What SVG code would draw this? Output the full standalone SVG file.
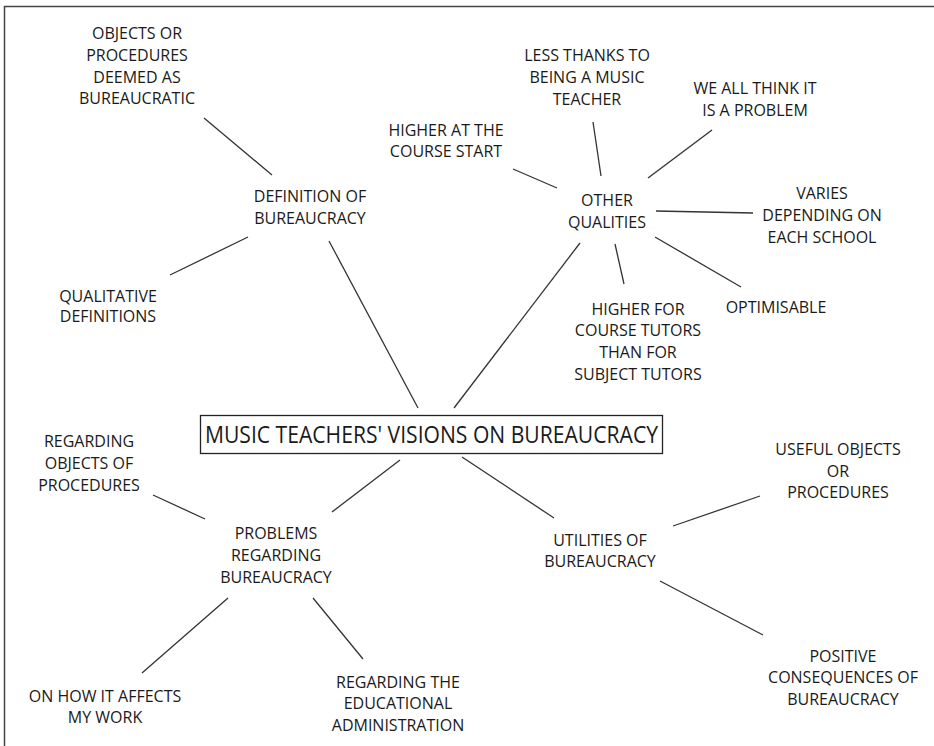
<svg xmlns="http://www.w3.org/2000/svg" width="934" height="746" viewBox="0 0 934 746">
<style>
text{font-family:"Open Sans","DejaVu Sans",sans-serif;font-size:16px;fill:#1a1a1a;text-anchor:middle}
.c line{stroke:#333;stroke-width:1.3}
.title{font-size:23px}
</style>
<rect width="934" height="746" fill="#fff"/>
<path d="M4.5 746V6.5H934" fill="none" stroke="#444" stroke-width="1.5"/>
<g class="c" id="connectors">
<line x1="418" y1="408" x2="329" y2="241"/>
<line x1="454" y1="408" x2="580" y2="243"/>
<line x1="400" y1="460" x2="332" y2="512"/>
<line x1="462" y1="457" x2="554" y2="518"/>
<line x1="272" y1="175" x2="204" y2="118"/>
<line x1="248" y1="237" x2="170" y2="275"/>
<line x1="601" y1="176" x2="593" y2="122"/>
<line x1="648" y1="178" x2="712" y2="130"/>
<line x1="557" y1="188" x2="513" y2="169"/>
<line x1="656" y1="211" x2="753" y2="213"/>
<line x1="655" y1="237" x2="741" y2="287"/>
<line x1="615" y1="244" x2="624" y2="284"/>
<line x1="205" y1="519" x2="153" y2="495"/>
<line x1="228" y1="598" x2="142" y2="673"/>
<line x1="313" y1="598" x2="363" y2="659"/>
<line x1="673" y1="526" x2="760" y2="496"/>
<line x1="660" y1="581" x2="763" y2="635"/>
</g>
<g id="center">
<rect x="200.5" y="415.5" width="462" height="38" fill="#fff" stroke="#222" stroke-width="1.3"/>
<text class="title" x="431.5" y="443" textLength="453" lengthAdjust="spacingAndGlyphs">MUSIC TEACHERS' VISIONS ON BUREAUCRACY</text>
</g>
<g id="definition"><text x="310" y="202">DEFINITION OF</text><text x="310" y="224">BUREAUCRACY</text></g>
<g id="objects-deemed"><text x="137" y="39">OBJECTS OR</text><text x="137" y="61">PROCEDURES</text><text x="137" y="83">DEEMED AS</text><text x="137" y="104">BUREAUCRATIC</text></g>
<g id="qualitative"><text x="108" y="302">QUALITATIVE</text><text x="108" y="322">DEFINITIONS</text></g>
<g id="other"><text x="607" y="206">OTHER</text><text x="607" y="228">QUALITIES</text></g>
<g id="less-thanks"><text x="587" y="61">LESS THANKS TO</text><text x="587" y="83">BEING A MUSIC</text><text x="587" y="105">TEACHER</text></g>
<g id="we-all"><text x="755" y="94">WE ALL THINK IT</text><text x="755" y="116">IS A PROBLEM</text></g>
<g id="higher-start"><text x="446" y="136">HIGHER AT THE</text><text x="446" y="157">COURSE START</text></g>
<g id="varies"><text x="822" y="199">VARIES</text><text x="822" y="221">DEPENDING ON</text><text x="822" y="243">EACH SCHOOL</text></g>
<g id="optimisable"><text x="776" y="313">OPTIMISABLE</text></g>
<g id="higher-tutors"><text x="638" y="315">HIGHER FOR</text><text x="638" y="336">COURSE TUTORS</text><text x="638" y="358">THAN FOR</text><text x="638" y="380">SUBJECT TUTORS</text></g>
<g id="problems"><text x="276" y="539">PROBLEMS</text><text x="276" y="561">REGARDING</text><text x="276" y="583">BUREAUCRACY</text></g>
<g id="regarding-objects"><text x="89" y="447">REGARDING</text><text x="89" y="469">OBJECTS OF</text><text x="89" y="491">PROCEDURES</text></g>
<g id="on-how"><text x="105" y="702">ON HOW IT AFFECTS</text><text x="105" y="723">MY WORK</text></g>
<g id="regarding-admin"><text x="398" y="688">REGARDING THE</text><text x="398" y="709">EDUCATIONAL</text><text x="398" y="731">ADMINISTRATION</text></g>
<g id="utilities"><text x="600" y="546">UTILITIES OF</text><text x="600" y="567">BUREAUCRACY</text></g>
<g id="useful"><text x="838" y="455">USEFUL OBJECTS</text><text x="838" y="477">OR</text><text x="838" y="498">PROCEDURES</text></g>
<g id="positive"><text x="843" y="662">POSITIVE</text><text x="843" y="683">CONSEQUENCES OF</text><text x="843" y="705">BUREAUCRACY</text></g>
</svg>
